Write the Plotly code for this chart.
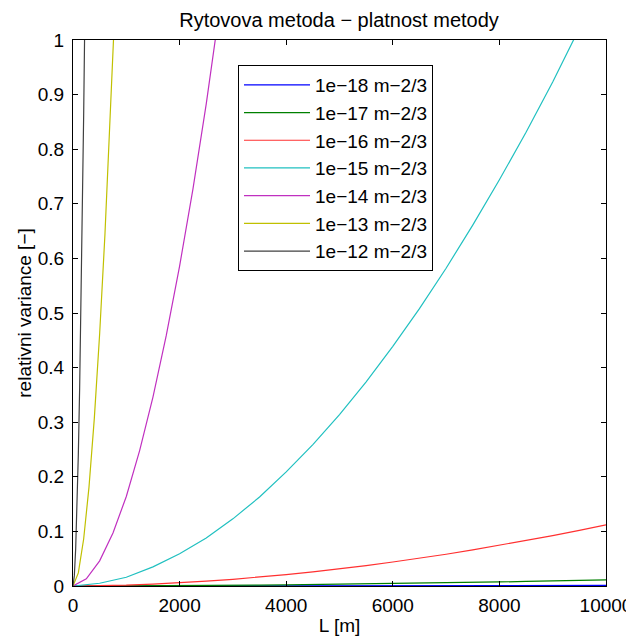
import plotly.graph_objects as go

# Values
L_main = [0, 500, 1000, 1500, 2000, 2500, 3000, 3500, 4000, 4500, 5000,
          5500, 6000, 6500, 7000, 7500, 8000, 8500, 9000, 9500, 10000]
var_1e18 = [0, 0.00000, 0.00002, 0.00004, 0.00006, 0.00009, 0.00012, 0.00016, 0.00021, 0.00026, 0.00031,
            0.00037, 0.00044, 0.00051, 0.00058, 0.00066, 0.00074, 0.00083, 0.00092, 0.00102, 0.00112]
var_1e17 = [0, 0.00005, 0.0002, 0.0004, 0.0006, 0.0009, 0.0012, 0.0016, 0.0021, 0.0026, 0.0031,
            0.0037, 0.0044, 0.0051, 0.0058, 0.0066, 0.0074, 0.0083, 0.0092, 0.0102, 0.0112]
var_1e16 = [0, 0.0005, 0.0016, 0.0035, 0.0059, 0.0088, 0.0123, 0.0163, 0.0209, 0.0259, 0.0314,
            0.0374, 0.0439, 0.0508, 0.0582, 0.0661, 0.0744, 0.0831, 0.0923, 0.102, 0.112]
var_1e15 = [0, 0.005, 0.016, 0.035, 0.059, 0.088, 0.123, 0.163, 0.209, 0.259, 0.314,
            0.374, 0.439, 0.508, 0.582, 0.661, 0.744, 0.831, 0.923, 1.020, 1.12]

L_1e14 = [0, 250, 500, 750, 1000, 1250, 1500, 1750, 2000, 2250, 2500, 2750, 3000]
var_1e14 = [0, 0.013, 0.046, 0.097, 0.164, 0.248, 0.346, 0.459, 0.586, 0.727, 0.883, 1.05, 1.23]

L_1e13 = [0, 100, 200, 300, 400, 500, 600, 700, 800]
var_1e13 = [0, 0.024, 0.086, 0.181, 0.307, 0.462, 0.645, 0.855, 1.09]

L_1e12 = [0, 25, 50, 75, 100, 125, 150, 175, 200, 225]
var_1e12 = [0, 0.019, 0.068, 0.143, 0.241, 0.364, 0.508, 0.673, 0.862, 1.068]

names = ["1e−18 m−2/3", "1e−17 m−2/3", "1e−16 m−2/3", "1e−15 m−2/3",
         "1e−14 m−2/3", "1e−13 m−2/3", "1e−12 m−2/3"]
colors = ["#0000ff", "#008000", "#ff3030", "#20c0c0", "#c030c0", "#c0c000", "#404040"]

x_ticks = [0, 2000, 4000, 6000, 8000, 10000]
y_ticks = [0, 0.1, 0.2, 0.3, 0.4, 0.5, 0.6, 0.7, 0.8, 0.9, 1]

series = [
    (L_main, var_1e18), (L_main, var_1e17), (L_main, var_1e16), (L_main, var_1e15),
    (L_1e14, var_1e14), (L_1e13, var_1e13), (L_1e12, var_1e12),
]

font_family = "Arial, Liberation Sans, sans-serif"
OFF = 8  # page body margin
W, H = 634 - OFF, 636 - OFF
ML, MT = 73 - OFF, 40 - OFF
MR, MB = W - (606 - OFF), H - (586 - OFF)
PW, PH = W - ML - MR, H - MT - MB

fig = go.Figure()
for (xs, ys), name, c in zip(series, names, colors):
    fig.add_trace(go.Scatter(x=xs, y=ys, mode="lines", name=name,
                             line=dict(color=c, width=1.2)))

fig.update_layout(
    width=W, height=H,
    margin=dict(l=ML, r=MR, t=MT, b=MB, autoexpand=False),
    paper_bgcolor="white", plot_bgcolor="white",
    font=dict(family=font_family, size=19, color="black"),
    title=dict(text="Rytovova metoda − platnost metody", x=(339 - OFF) / W, xanchor="center",
               y=1 - (20 - OFF) / H, yanchor="middle", yref="container",
               font=dict(size=20, color="black")),
    showlegend=True,
    legend=dict(x=(238 - 73) / PW, y=(586 - 65) / PH, xanchor="left", yanchor="top",
                bgcolor="white", bordercolor="black", borderwidth=1,
                font=dict(size=19, color="black"), itemwidth=66,
                tracegroupgap=0),
)
fig.update_xaxes(range=[0, 10000], tickvals=x_ticks, tickformat="d", automargin=False,
                 showgrid=False, zeroline=False, showline=True, linecolor="black",
                 linewidth=1, mirror="ticks", ticks="inside", ticklen=5,
                 tickcolor="black", ticklabelstandoff=2,
                 title=dict(text="L [m]", standoff=6, font=dict(size=19)))
fig.update_yaxes(range=[0, 1], tickvals=y_ticks, automargin=False,
                 showgrid=False, zeroline=False, showline=True, linecolor="black",
                 linewidth=1, mirror="ticks", ticks="inside", ticklen=5,
                 tickcolor="black", ticklabelstandoff=4,
                 title=dict(text="relativni variance [−]", standoff=1, font=dict(size=19)))

fig.write_html("out.html")
